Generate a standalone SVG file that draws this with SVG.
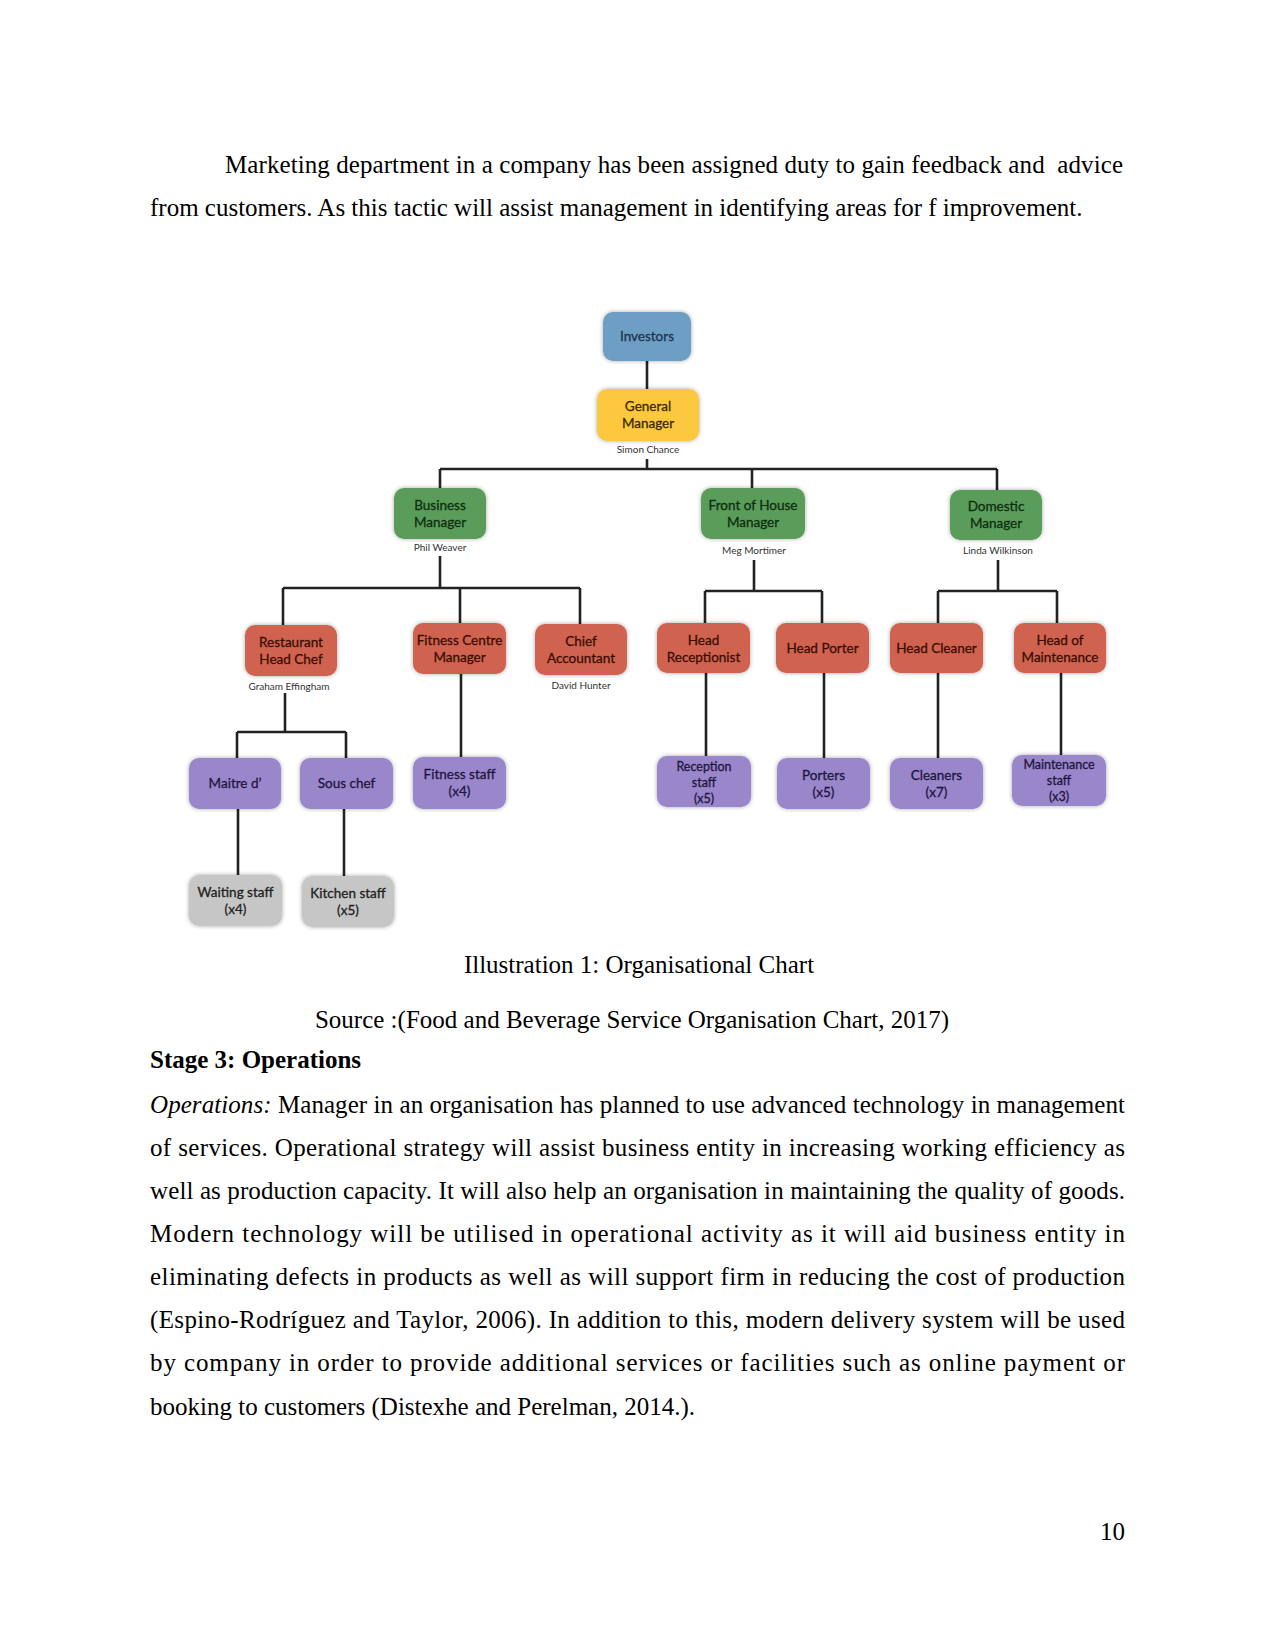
<svg xmlns="http://www.w3.org/2000/svg" width="1275" height="1650" viewBox="0 0 1275 1650">
<defs>
<filter id="glow" x="-20%" y="-20%" width="140%" height="140%">
<feGaussianBlur in="SourceAlpha" stdDeviation="2"/>
<feComponentTransfer><feFuncA type="linear" slope="0.35"/></feComponentTransfer>
<feMerge><feMergeNode/><feMergeNode in="SourceGraphic"/></feMerge>
</filter>
</defs>
<style>
.body{font-family:"Liberation Serif","Times New Roman",serif;font-size:25px;fill:#000}
.bold{font-weight:bold}
.it{font-style:italic}
.box{filter:url(#glow)}
.blue{fill:#6d9ec3}
.yellow{fill:#fcc83e}
.green{fill:#5a9d5a}
.red{fill:#d0634f}
.purple{fill:#9a86cb}
.grey{fill:#c6c6c6}
.lbl{font-family:Lato,"Liberation Sans",Arial,sans-serif;font-size:13.5px;text-anchor:middle;stroke-width:0.3px}
.lbl3{font-family:Lato,"Liberation Sans",Arial,sans-serif;font-size:12.5px;text-anchor:middle;stroke-width:0.3px}
.nm{font-family:Lato,"Liberation Sans",Arial,sans-serif;font-size:10px;text-anchor:middle;fill:#333}
.tb{fill:#1d3550;stroke:#1d3550}.ty{fill:#3a2a00;stroke:#3a2a00}.tg{fill:#0f2e10;stroke:#0f2e10}.tr{fill:#3a0e06;stroke:#3a0e06}.tp{fill:#1e1640;stroke:#1e1640}.tgr{fill:#222;stroke:#222}
.conn{stroke:#222;stroke-width:2.6;fill:none}
</style>
<rect width="1275" height="1650" fill="#fff"/>

<text class="body" x="225" y="173" textLength="898" lengthAdjust="spacing" xml:space="preserve">Marketing department in a company has been assigned duty to gain feedback and  advice</text>
<text class="body" x="150" y="216">from customers. As this tactic will assist management in identifying areas for f improvement.</text>

<g id="connectors">
<path class="conn" d="M647 361V389"/>
<path class="conn" d="M647 459V469M440 469H997M440 469V488M752 469V488M997 469V490"/>
<path class="conn" d="M440 556V588M283 588H580M283 588V625M460 588V623M580 588V624"/>
<path class="conn" d="M754 560V591M705 591H822M705 591V623M822 591V623"/>
<path class="conn" d="M998 560V591M938 591H1057M938 591V623M1057 591V623"/>
<path class="conn" d="M285 693V732M237 732H346M237 732V758M346 732V758"/>
<path class="conn" d="M461 674V757"/>
<path class="conn" d="M238 809V875M344 809V876"/>
<path class="conn" d="M706 673V756M824 673V758M938 673V758M1061 673V755"/>
</g>

<g id="investors"><rect class="box blue" x="603" y="312" width="88" height="49" rx="10"/><text class="lbl tb" x="647" y="341">Investors</text></g>
<g id="general-manager"><rect class="box yellow" x="597" y="389" width="102" height="52" rx="10"/><text class="lbl ty" x="648" y="411">General</text><text class="lbl ty" x="648" y="428">Manager</text><text class="nm" x="648" y="453">Simon Chance</text></g>

<g id="business-manager"><rect class="box green" x="394" y="488" width="92" height="51" rx="10"/><text class="lbl tg" x="440" y="510">Business</text><text class="lbl tg" x="440" y="527">Manager</text><text class="nm" x="440" y="551">Phil Weaver</text></g>
<g id="front-of-house-manager"><rect class="box green" x="701" y="488" width="104" height="51" rx="10"/><text class="lbl tg" x="753" y="510">Front of House</text><text class="lbl tg" x="753" y="527">Manager</text><text class="nm" x="754" y="554">Meg Mortimer</text></g>
<g id="domestic-manager"><rect class="box green" x="950" y="490" width="92" height="50" rx="10"/><text class="lbl tg" x="996" y="511">Domestic</text><text class="lbl tg" x="996" y="528">Manager</text><text class="nm" x="998" y="554">Linda Wilkinson</text></g>

<g id="restaurant-head-chef"><rect class="box red" x="245" y="625" width="92" height="51" rx="10"/><text class="lbl tr" x="291" y="647">Restaurant</text><text class="lbl tr" x="291" y="664">Head Chef</text><text class="nm" x="289" y="690">Graham Effingham</text></g>
<g id="fitness-centre-manager"><rect class="box red" x="413" y="623" width="93" height="51" rx="10"/><text class="lbl tr" x="459.5" y="645">Fitness Centre</text><text class="lbl tr" x="459.5" y="662">Manager</text></g>
<g id="chief-accountant"><rect class="box red" x="535" y="624" width="92" height="51" rx="10"/><text class="lbl tr" x="581" y="646">Chief</text><text class="lbl tr" x="581" y="663">Accountant</text><text class="nm" x="581" y="689">David Hunter</text></g>
<g id="head-receptionist"><rect class="box red" x="657" y="623" width="93" height="50" rx="10"/><text class="lbl tr" x="703.5" y="645">Head</text><text class="lbl tr" x="703.5" y="662">Receptionist</text></g>
<g id="head-porter"><rect class="box red" x="776" y="623" width="93" height="50" rx="10"/><text class="lbl tr" x="822.5" y="653">Head Porter</text></g>
<g id="head-cleaner"><rect class="box red" x="890" y="623" width="93" height="50" rx="10"/><text class="lbl tr" x="936.5" y="653">Head Cleaner</text></g>
<g id="head-of-maintenance"><rect class="box red" x="1014" y="623" width="92" height="50" rx="10"/><text class="lbl tr" x="1060" y="645">Head of</text><text class="lbl tr" x="1060" y="662">Maintenance</text></g>

<g id="maitre-d"><rect class="box purple" x="189" y="758" width="92" height="51" rx="10"/><text class="lbl tp" x="235" y="788">Maitre d’</text></g>
<g id="sous-chef"><rect class="box purple" x="300" y="758" width="93" height="51" rx="10"/><text class="lbl tp" x="346.5" y="788">Sous chef</text></g>
<g id="fitness-staff"><rect class="box purple" x="413" y="757" width="93" height="52" rx="10"/><text class="lbl tp" x="459.5" y="779">Fitness staff</text><text class="lbl tp" x="459.5" y="796">(x4)</text></g>
<g id="reception-staff"><rect class="box purple" x="657" y="756" width="94" height="51" rx="10"/><text class="lbl3 tp" x="704" y="771">Reception</text><text class="lbl3 tp" x="704" y="787">staff</text><text class="lbl3 tp" x="704" y="803">(x5)</text></g>
<g id="porters"><rect class="box purple" x="777" y="758" width="93" height="51" rx="10"/><text class="lbl tp" x="823.5" y="780">Porters</text><text class="lbl tp" x="823.5" y="797">(x5)</text></g>
<g id="cleaners"><rect class="box purple" x="890" y="758" width="93" height="51" rx="10"/><text class="lbl tp" x="936.5" y="780">Cleaners</text><text class="lbl tp" x="936.5" y="797">(x7)</text></g>
<g id="maintenance-staff"><rect class="box purple" x="1012" y="755" width="94" height="51" rx="10"/><text class="lbl3 tp" x="1059" y="769">Maintenance</text><text class="lbl3 tp" x="1059" y="785">staff</text><text class="lbl3 tp" x="1059" y="801">(x3)</text></g>

<g id="waiting-staff"><rect class="box grey" x="189" y="875" width="93" height="51" rx="10"/><text class="lbl tgr" x="235.5" y="897">Waiting staff</text><text class="lbl tgr" x="235.5" y="914">(x4)</text></g>
<g id="kitchen-staff"><rect class="box grey" x="302" y="876" width="92" height="51" rx="10"/><text class="lbl tgr" x="348" y="898">Kitchen staff</text><text class="lbl tgr" x="348" y="915">(x5)</text></g>

<text class="body" x="639" y="973" text-anchor="middle">Illustration 1: Organisational Chart</text>
<text class="body" x="632" y="1028" text-anchor="middle">Source :(Food and Beverage Service Organisation Chart, 2017)</text>
<text class="body bold" x="150" y="1068">Stage 3: Operations</text>

<text class="body" x="150" y="1113" textLength="975" lengthAdjust="spacing"><tspan class="it">Operations:</tspan> Manager in an organisation has planned to use advanced technology in management</text>
<text class="body" x="150" y="1156" textLength="975" lengthAdjust="spacing">of services. Operational strategy will assist business entity in increasing working efficiency as</text>
<text class="body" x="150" y="1199" textLength="975" lengthAdjust="spacing">well as production capacity. It will also help an organisation in maintaining the quality of goods.</text>
<text class="body" x="150" y="1242" textLength="975" lengthAdjust="spacing">Modern technology will be utilised in operational activity as it will aid business entity in</text>
<text class="body" x="150" y="1285" textLength="975" lengthAdjust="spacing">eliminating defects in products as well as will support firm in reducing the cost of production</text>
<text class="body" x="150" y="1328" textLength="975" lengthAdjust="spacing">(Espino-Rodríguez and Taylor, 2006). In addition to this, modern delivery system will be used</text>
<text class="body" x="150" y="1371" textLength="975" lengthAdjust="spacing">by company in order to provide additional services or facilities such as online payment or</text>
<text class="body" x="150" y="1415">booking to customers (Distexhe and Perelman, 2014.).</text>
<text class="body" x="1125" y="1540" text-anchor="end">10</text>
</svg>
